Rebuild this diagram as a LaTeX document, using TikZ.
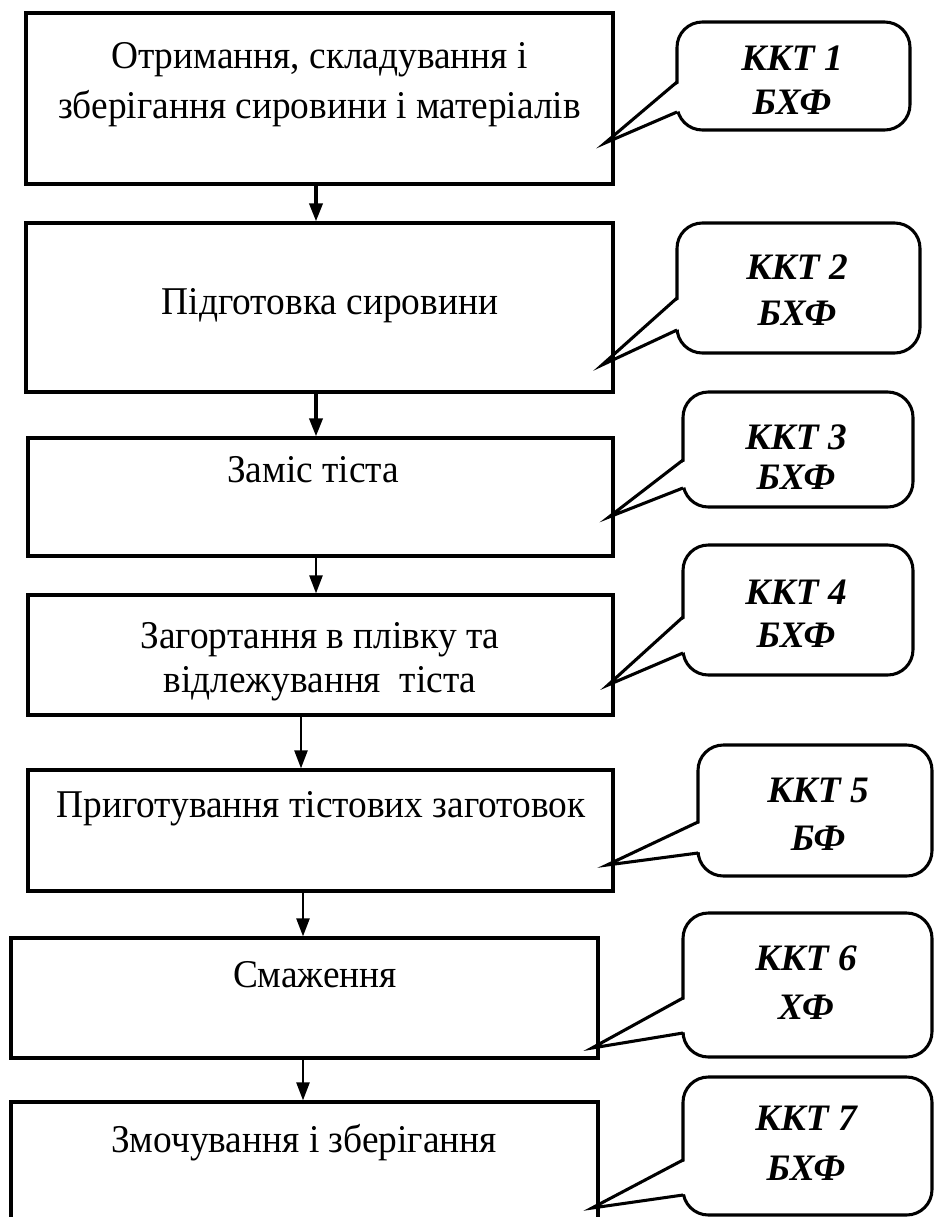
\documentclass[tikz,border=0pt]{standalone}
\usepackage{fontspec}
\setmainfont{Liberation Serif}
\newfontfamily\boxfont[FakeStretch=0.95]{Liberation Serif}
\usetikzlibrary{arrows.meta,calc}
\newcommand\calltail[5]{%
  \fill[white] (#1+3,#2+1) -- (#1-4,{#2+(#5-#2)*4/(#1-#4)+1}) -- (#1-4,{#3+(#5-#3)*4/(#1-#4)-1}) -- (#1+3,#3-1) -- cycle;
  \draw[tail] (#1,#2) -- (#4,#5) -- (#1,#3);}
\begin{document}
\begin{tikzpicture}[x=0.75pt,y=-0.75pt,
  box/.style={draw,line width=2.6pt,inner sep=0pt},
  txt/.style={inner sep=0pt,anchor=base,font=\boxfont\fontsize{29.5}{33}\selectfont},
  callbox/.style={draw,line width=2.3pt,rounded corners=19pt,inner sep=0pt},
  ktxt/.style={inner sep=0pt,align=center,font=\fontsize{28}{#1}\selectfont\bfseries\itshape},
  tail/.style={line width=2.3pt,line join=miter},
  flow/.style={-{Triangle[length=13.5pt,width=10pt]}},
  thickflow/.style={flow,line width=2.3pt},
  thinflow/.style={flow,line width=1.3pt}]
\path[use as bounding box] (0,0) rectangle (934,1217);
\clip (0,0) rectangle (934,1217);
% callouts
\node[callbox,minimum width=233*0.75pt,minimum height=108*0.75pt] (c1) at (793.5,76) {};
\node[callbox,minimum width=243*0.75pt,minimum height=130*0.75pt] (c2) at (798.5,288) {};
\node[callbox,minimum width=230*0.75pt,minimum height=115*0.75pt] (c3) at (798,449.5) {};
\node[callbox,minimum width=230*0.75pt,minimum height=130*0.75pt] (c4) at (798,610) {};
\node[callbox,minimum width=234*0.75pt,minimum height=131*0.75pt] (c5) at (815,810.5) {};
\node[callbox,minimum width=249*0.75pt,minimum height=144*0.75pt] (c6) at (807.5,985) {};
\node[callbox,minimum width=249*0.75pt,minimum height=138*0.75pt] (c7) at (807.5,1146) {};
\calltail{677}{82}{112}{605}{143}
\calltail{677}{298}{330}{602}{365}
\calltail{683}{460}{488}{609}{517}
\calltail{683}{617}{653}{608}{685}
\calltail{698}{822}{853}{607}{865}
\calltail{683}{998}{1033}{592}{1048}
\calltail{683}{1160}{1195}{592}{1208}
\node[ktxt=33pt] (k1) at (792,80) {ККТ 1\\БХФ};
\node[ktxt=34.5pt] (k2) at (797,290) {ККТ 2\\БХФ};
\node[ktxt=30pt] (k3) at (796,457) {ККТ 3\\БХФ};
\node[ktxt=32pt] (k4) at (796,613.5) {ККТ 4\\БХФ};
\node[ktxt=36pt] (k5) at (818,814) {ККТ 5\\БФ};
\node[ktxt=37pt] (k6) at (806,982.5) {ККТ 6\\ХФ};
\node[ktxt=37.5pt] (k7) at (806,1143) {ККТ 7\\БХФ};
% process boxes
\node[box,minimum width=587*0.75pt,minimum height=171*0.75pt] (b1) at (319.5,98.5) {};
\node[box,minimum width=587*0.75pt,minimum height=169*0.75pt] (b2) at (319.5,307.5) {};
\node[box,minimum width=585*0.75pt,minimum height=118*0.75pt] (b3) at (320.5,497) {};
\node[box,minimum width=585*0.75pt,minimum height=120*0.75pt] (b4) at (320.5,655) {};
\node[box,minimum width=585*0.75pt,minimum height=121*0.75pt] (b5) at (320.5,830.5) {};
\node[box,minimum width=587*0.75pt,minimum height=120*0.75pt] (b6) at (304.5,998) {};
\node[box,minimum width=587*0.75pt,minimum height=160*0.75pt] (b7) at (304.5,1182) {};
% texts
\node[txt] (t1a) at (319.5,68) {Отримання, складування і};
\node[txt] (t1b) at (319.5,118) {зберігання сировини і матеріалів};
\node[txt] (t2) at (330,314) {Підготовка сировини};
\node[txt] (t3) at (313,482) {Заміс тіста};
\node[txt] (t4a) at (320,648) {Загортання в плівку та};
\node[txt] (t4b) at (320,692) {відлежування\ \ тіста};
\node[txt] (t5) at (321,817) {Приготування тістових заготовок};
\node[txt] (t6) at (315,987) {Смаження};
\node[txt] (t7) at (304,1152) {Змочування і зберігання};
% arrows
\coordinate (a1s) at ($(b1.south)+(-3.5,0)$);
\coordinate (a2s) at ($(b2.south)+(-3.5,0)$);
\coordinate (a3s) at ($(b3.south)+(-4.5,0)$);
\coordinate (a4s) at ($(b4.south)+(-19.5,0)$);
\coordinate (a5s) at ($(b5.south)+(-17.5,0)$);
\coordinate (a6s) at ($(b6.south)+(-1.5,0)$);
\draw[thickflow] (a1s) -- (a1s |- b2.north);
\draw[thickflow] (a2s) -- (a2s |- b3.north);
\draw[thinflow] (a3s) -- (a3s |- b4.north);
\draw[thinflow] (a4s) -- (a4s |- b5.north);
\draw[thinflow] (a5s) -- (a5s |- b6.north);
\draw[thinflow] (a6s) -- (a6s |- b7.north);
\end{tikzpicture}
\end{document}
